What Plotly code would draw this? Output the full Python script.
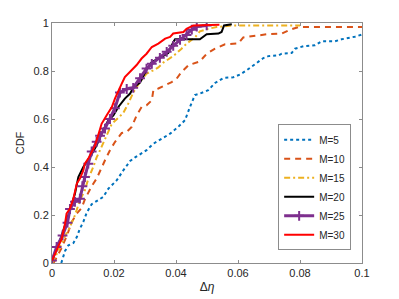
import plotly.graph_objects as go

# ---- data ----
m5_x = [0.003, 0.0042, 0.0053, 0.0069, 0.008, 0.009, 0.0101, 0.0112, 0.0128, 0.0144, 0.0165, 0.0182,
        0.0209, 0.023, 0.0252, 0.0268, 0.0284, 0.0305, 0.0327, 0.0354, 0.0381, 0.0407, 0.0429, 0.0445,
        0.0461, 0.0477, 0.0504, 0.0526, 0.0542, 0.0553, 0.0585, 0.0606, 0.0628, 0.0649, 0.0682, 0.0698,
        0.073, 0.0741, 0.0773, 0.0784, 0.0811, 0.0848, 0.087, 0.0913, 0.0934, 0.0977, 0.1]
m5_y = [0, 0.05, 0.074, 0.083, 0.108, 0.143, 0.171, 0.21, 0.245, 0.258, 0.275, 0.31,
        0.345, 0.386, 0.425, 0.44, 0.453, 0.47, 0.497, 0.518, 0.539, 0.567, 0.595, 0.65,
        0.70, 0.706, 0.72, 0.75, 0.762, 0.771, 0.774, 0.785, 0.803, 0.824, 0.854, 0.862,
        0.865, 0.872, 0.875, 0.893, 0.903, 0.907, 0.924, 0.924, 0.932, 0.943, 0.952]

m10_x = [0.0005, 0.003, 0.005, 0.0063, 0.008, 0.0096, 0.0106, 0.0117, 0.0128, 0.0144, 0.0155, 0.0171,
         0.0187, 0.0203, 0.0225, 0.0241, 0.0257, 0.0273, 0.0289, 0.0305, 0.0322, 0.0327, 0.0343, 0.0365,
         0.0386, 0.0402, 0.0418, 0.044, 0.0477, 0.0499, 0.0526, 0.0558, 0.0601, 0.0617, 0.0665, 0.0693,
         0.0741, 0.0768, 0.0795, 0.1]
m10_y = [0, 0.06, 0.12, 0.17, 0.206, 0.23, 0.265, 0.295, 0.32, 0.352, 0.386, 0.428,
         0.47, 0.504, 0.542, 0.546, 0.567, 0.615, 0.65, 0.657, 0.678, 0.72, 0.727, 0.74,
         0.754, 0.768, 0.796, 0.824, 0.84, 0.872, 0.893, 0.911, 0.915, 0.94, 0.947, 0.953,
         0.956, 0.972, 0.983, 0.983]

m15_x = [0, 0.002, 0.0037, 0.0058, 0.0074, 0.009, 0.0106, 0.0117, 0.0133, 0.0144, 0.0155, 0.0176,
         0.0193, 0.0214, 0.023, 0.0246, 0.0262, 0.0284, 0.0305, 0.0327, 0.0343, 0.0359, 0.0375, 0.0391,
         0.0418, 0.0434, 0.0461, 0.0477, 0.0504, 0.0531, 0.0585, 0.08]
m15_y = [0, 0.05, 0.10, 0.15, 0.199, 0.261, 0.303, 0.35, 0.4, 0.44, 0.47, 0.535,
         0.58, 0.605, 0.625, 0.664, 0.71, 0.755, 0.789, 0.803, 0.815, 0.835, 0.85, 0.862,
         0.893, 0.914, 0.94, 0.965, 0.976, 0.983, 0.99, 0.99]

m20_x = [0, 0.0026, 0.0058, 0.0074, 0.0085, 0.0101, 0.0123, 0.0144, 0.0165, 0.0182, 0.0198, 0.0214,
         0.0235, 0.0252, 0.0262, 0.0284, 0.0305, 0.0322, 0.0348, 0.0375, 0.0391, 0.0397, 0.0477, 0.0499,
         0.0537, 0.0547, 0.0555, 0.058]
m20_y = [0.01, 0.095, 0.22, 0.289, 0.358, 0.4, 0.442, 0.49, 0.553, 0.595, 0.615, 0.65,
         0.685, 0.706, 0.73, 0.752, 0.805, 0.837, 0.855, 0.875, 0.92, 0.932, 0.932, 0.953,
         0.956, 0.9625, 0.99, 0.995]

m25_x = [0, 0.0015, 0.0034, 0.005, 0.0058, 0.0074, 0.009, 0.0098, 0.0106, 0.0117, 0.0128, 0.0144,
         0.0155, 0.0171, 0.0187, 0.0203, 0.0219, 0.0241, 0.0262, 0.0284, 0.0305, 0.0322, 0.0348, 0.037,
         0.0391, 0.0413, 0.0434, 0.0451, 0.0467, 0.0499]
m25_y = [0.01, 0.067, 0.115, 0.168, 0.225, 0.255, 0.268, 0.32, 0.358, 0.414, 0.465, 0.505,
         0.53, 0.56, 0.6, 0.645, 0.71, 0.725, 0.73, 0.77, 0.81, 0.83, 0.855, 0.88,
         0.905, 0.93, 0.95, 0.972, 0.985, 0.99]

m30_x = [0, 0.0015, 0.0031, 0.0042, 0.0047, 0.0058, 0.0069, 0.008, 0.009, 0.0101, 0.0106, 0.0117,
         0.0128, 0.0139, 0.0149, 0.016, 0.0176, 0.0193, 0.0203, 0.0214, 0.0225, 0.0235, 0.0246, 0.0262,
         0.0273, 0.0289, 0.0305, 0.0322, 0.0343, 0.0365, 0.0381, 0.0391, 0.0424, 0.0434, 0.0456, 0.054]
m30_y = [0.01, 0.053, 0.10, 0.164, 0.206, 0.227, 0.268, 0.331, 0.352, 0.386, 0.414, 0.435,
         0.4625, 0.49, 0.532, 0.58, 0.615, 0.65, 0.685, 0.72, 0.7475, 0.775, 0.79, 0.81,
         0.825, 0.852, 0.872, 0.9, 0.914, 0.935, 0.942, 0.956, 0.9625, 0.976, 0.99, 0.993]

x_ticks = [0, 0.02, 0.04, 0.06, 0.08, 0.1]
x_tick_labels = ["0", "0.02", "0.04", "0.06", "0.08", "0.1"]
y_ticks = [0, 0.2, 0.4, 0.6, 0.8, 1]
y_tick_labels = ["0", "0.2", "0.4", "0.6", "0.8", "1"]

fig = go.Figure()
fig.add_trace(go.Scatter(x=m5_x, y=m5_y, mode="lines", name="M=5",
                         line=dict(color="#0072BD", width=2, dash="dot")))
fig.add_trace(go.Scatter(x=m10_x, y=m10_y, mode="lines", name="M=10",
                         line=dict(color="#D95319", width=2, dash="6px,5px")))
fig.add_trace(go.Scatter(x=m15_x, y=m15_y, mode="lines", name="M=15",
                         line=dict(color="#EDB120", width=2, dash="6px,3px,2px,3px")))
fig.add_trace(go.Scatter(x=m20_x, y=m20_y, mode="lines", name="M=20",
                         line=dict(color="black", width=2)))
fig.add_trace(go.Scatter(x=m25_x, y=m25_y, mode="lines+markers", name="M=25",
                         line=dict(color="#7E2F8E", width=3),
                         marker=dict(symbol="cross-thin", size=7,
                                     line=dict(color="#7E2F8E", width=2))))
fig.add_trace(go.Scatter(x=m30_x, y=m30_y, mode="lines", name="M=30",
                         line=dict(color="#FF0000", width=2)))

axis_common = dict(showline=True, linecolor="#8c8c8c", linewidth=1, mirror="ticks",
                   ticks="inside", ticklen=3, tickcolor="#8c8c8c", showgrid=False, zeroline=False,
                   automargin=False,
                   tickfont=dict(family="Arial", size=11, color="#262626"))

# the page body has an 8px margin, so the figure is offset by 8px
fig.update_layout(
    width=391, height=291,
    margin=dict(l=44, r=37, t=15, b=36),
    paper_bgcolor="white", plot_bgcolor="white",
    font=dict(family="Arial", size=11, color="#262626"),
    xaxis=dict(range=[0, 0.1], tickvals=x_ticks, ticktext=x_tick_labels,
               title=dict(text="Δ<i>η</i>", font=dict(size=12), standoff=4), **axis_common),
    yaxis=dict(range=[0, 1], tickvals=y_ticks, ticktext=y_tick_labels,
               title=dict(text="CDF", font=dict(size=11), standoff=6), **axis_common),
    legend=dict(x=0.965, y=0.053, xanchor="right", yanchor="bottom",
                bgcolor="white", bordercolor="#8c8c8c", borderwidth=1,
                font=dict(size=10, color="#262626"), itemwidth=30,
                tracegroupgap=0),
    showlegend=True,
)

fig.write_html("out.html")
